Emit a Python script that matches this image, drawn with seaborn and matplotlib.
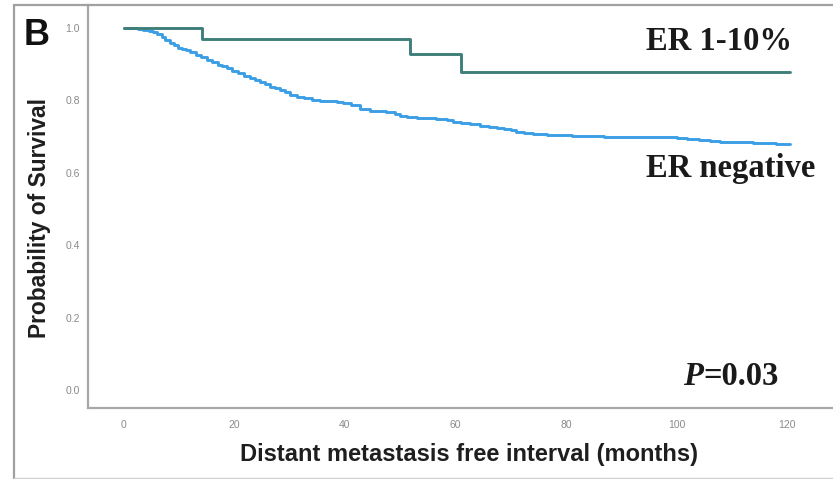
import matplotlib
matplotlib.use("Agg")
import matplotlib.pyplot as plt
import seaborn as sns
import pandas as pd
from matplotlib.lines import Line2D

# ---- data ----
er_low_time = [0, 14.1, 51.8, 61.0, 120.5]
er_low_surv = [1.0, 0.970, 0.928, 0.878, 0.878]

er_neg_time = [0, 1.5, 2.5, 3.5, 4.5, 5.3, 6, 6.8, 7.5, 8.3, 9, 9.8, 10.5, 11.3,
               12, 13, 14, 15, 16, 17, 17.8, 18.6, 19.6, 20.6, 21.7, 22.8, 23.7,
               24.6, 25.5, 26.4, 27.3, 28.2, 29.1, 30, 31.3, 32.5, 34, 35.5, 37,
               38.5, 39.7, 41, 42.7, 44.5, 46, 47.5, 49, 50, 51.2, 53, 55, 56.5,
               58.4, 59.6, 61, 62.6, 64.4, 66, 67.5, 68.7, 70, 71, 72.3, 74, 76.5,
               79, 81, 84, 86.8, 90, 94, 98.8, 100, 101.8, 104, 106, 107.9, 110,
               112, 113.9, 116, 118, 120.5]
er_neg_surv = [1.0, 0.999, 0.997, 0.995, 0.993, 0.990, 0.984, 0.976, 0.968, 0.958,
               0.952, 0.946, 0.942, 0.939, 0.933, 0.926, 0.919, 0.912, 0.905, 0.899,
               0.894, 0.889, 0.882, 0.875, 0.868, 0.861, 0.856, 0.850, 0.844, 0.838,
               0.835, 0.830, 0.823, 0.815, 0.810, 0.806, 0.802, 0.799, 0.797, 0.795,
               0.792, 0.786, 0.776, 0.772, 0.770, 0.769, 0.762, 0.758, 0.755, 0.752,
               0.750, 0.748, 0.746, 0.740, 0.737, 0.734, 0.728, 0.726, 0.724, 0.722,
               0.717, 0.713, 0.710, 0.707, 0.704, 0.703, 0.702, 0.701, 0.700, 0.700,
               0.700, 0.699, 0.697, 0.693, 0.690, 0.688, 0.686, 0.685, 0.684, 0.683,
               0.681, 0.680, 0.679]

x_ticks = [0, 20, 40, 60, 80, 100, 120]
y_ticks = [0.0, 0.2, 0.4, 0.6, 0.8, 1.0]

sns.set_theme(style="white")
plt.rcParams['font.family'] = ['Liberation Sans', 'DejaVu Sans']

fig = plt.figure(figsize=(8.33, 4.79), dpi=100)
ax = fig.add_axes([88/833, 1 - 408/479, 1 - 88/833, (408 - 5)/479])

df_low = pd.DataFrame({"t": er_low_time, "s": er_low_surv})
df_neg = pd.DataFrame({"t": er_neg_time, "s": er_neg_surv})

sns.lineplot(data=df_neg, x="t", y="s", ax=ax, color="#3c9fe6", lw=2.1,
             drawstyle="steps-post", estimator=None, sort=False)
sns.lineplot(data=df_low, x="t", y="s", ax=ax, color="#3f7f7a", lw=2.1,
             drawstyle="steps-post", estimator=None, sort=False)

ax.set_xlim(-6.5, 128.3)
ax.set_ylim(-0.05, 1.0635)
ax.set_xticks(x_ticks)
ax.set_xticklabels([str(v) for v in x_ticks])
ax.set_yticks(y_ticks)
ax.set_yticklabels([f"{v:.1f}" for v in y_ticks])
ax.tick_params(axis="both", length=0, labelsize=7.5, labelcolor="#8a8a8a")
ax.tick_params(axis="x", pad=9)
ax.tick_params(axis="y", pad=6)

for side in ["top", "right"]:
    ax.spines[side].set_visible(False)
for side in ["left", "bottom"]:
    ax.spines[side].set_color("#a8a8a8")
    ax.spines[side].set_linewidth(1.6)

ax.set_xlabel("Distant metastasis free interval (months)", fontsize=17,
              fontweight="bold", color="#1e1e1e", labelpad=9)
ax.set_ylabel("Probability of Survival", fontsize=16.4, fontweight="bold",
              color="#1e1e1e", labelpad=10)
ax.xaxis.label.set_x(0.511)
ax.yaxis.label.set_y(0.471)

# annotations
fig.text(646/833, 1 - 50/479, "ER 1-10%", fontsize=23.5, fontweight="bold",
         family="Liberation Serif", color="#1a1a1a", ha="left", va="baseline")
fig.text(646/833, 1 - 177/479, "ER negative", fontsize=23.5, fontweight="bold",
         family="Liberation Serif", color="#1a1a1a", ha="left", va="baseline")
fig.text(683/833, 1 - 385/479, "P", fontsize=23.5, fontweight="bold",
         fontstyle="italic", family="Liberation Serif", color="#1a1a1a",
         ha="left", va="baseline")
fig.text(703/833, 1 - 385/479, "=0.03", fontsize=23.5, fontweight="bold",
         family="Liberation Serif", color="#1a1a1a", ha="left", va="baseline")
fig.text(24/833, 1 - 45/479, "B", fontsize=26, fontweight="bold",
         color="#111111", ha="left", va="baseline")

# outer panel frame
fig.add_artist(Line2D([14/833, 14/833], [0, 1 - 5/479], transform=fig.transFigure,
                      color="#a0a0a0", lw=1.6))
fig.add_artist(Line2D([14/833, 1], [1 - 5/479, 1 - 5/479], transform=fig.transFigure,
                      color="#a0a0a0", lw=1.6))
fig.add_artist(Line2D([14/833, 1], [1/479, 1/479], transform=fig.transFigure,
                      color="#d0d0d0", lw=1.0))

fig.savefig("out.png", dpi=100)
